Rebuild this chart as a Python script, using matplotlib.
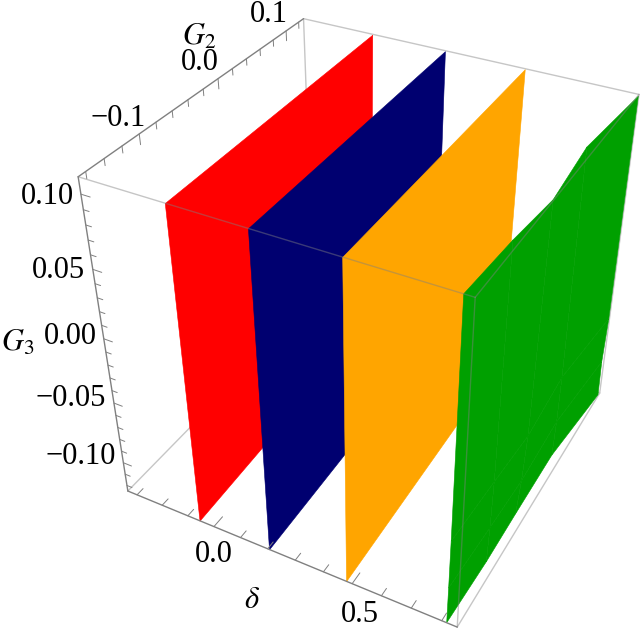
import numpy as np, matplotlib
matplotlib.use('Agg')
import matplotlib.pyplot as plt
from matplotlib.collections import PolyCollection

plt.rcParams['font.family'] = ['Liberation Serif', 'DejaVu Serif']
plt.rcParams['mathtext.fontset'] = 'stix'

# Plot box ranges
delta_range = (-0.337, 0.85)
g2_range = (-0.168, 0.128)
g3_range = (-0.125, 0.111)

# Surface sheets: delta(G2, G3) on small grids
g2_edges = [-0.168, 0.127]
g3_edges = [0.111, -0.125]
delta_red = [[-0.049, -0.070], [-0.055, -0.080]]
delta_blue = [[0.211, 0.197], [0.205, 0.193]]
delta_orange = [[0.488, 0.476], [0.479, 0.466]]

g2_green = [-0.168, -0.101, -0.044, 0.033, 0.125]
g3_green = [0.111, -0.057, -0.095, -0.125]
delta_green = [[0.820, 0.831, 0.848, 0.826, 0.852],
               [0.818, 0.828, 0.838, 0.826, 0.851],
               [0.817, 0.825, 0.830, 0.824, 0.846],
               [0.816, 0.821, 0.820, 0.820, 0.848]]

# Ticks
delta_major = [0.0, 0.5]
delta_ticks = [-0.3, -0.2, -0.1, 0.0, 0.1, 0.2, 0.3, 0.4, 0.5, 0.6, 0.7, 0.8]
g2_major = [-0.1, 0.0, 0.1]
g2_ticks = [-0.16, -0.14, -0.12, -0.10, -0.08, -0.06, -0.04, -0.02, 0.0,
            0.02, 0.04, 0.06, 0.08, 0.10, 0.12]
g3_major = [0.10, 0.05, 0.0, -0.05, -0.10]
g3_ticks = [0.10, 0.09, 0.08, 0.07, 0.06, 0.05, 0.04, 0.03, 0.02, 0.01, 0.0,
            -0.01, -0.02, -0.03, -0.04, -0.05, -0.06, -0.07, -0.08, -0.09,
            -0.10, -0.11, -0.12]

# Perspective camera fitted from the box corners as seen in the picture
dn, dx = delta_range
gn, gx = g2_range
hn, hx = g3_range
world = [(dn, gn, hx), (dx, gn, hx), (dn, gx, hx), (dx, gx, hx),
         (dn, gn, hn), (dx, gn, hn), (dn, gx, hn), (dx, gx, hn)]
screen = [(79, 176), (475, 298.5), (303, 18), (639, 95),
          (127.5, 490), (457, 628), (314, 303), (600, 391)]
rows = []
for (a, b, c), (x, y) in zip(world, screen):
    rows.append([a, b, c, 1, 0, 0, 0, 0, -x*a, -x*b, -x*c, -x])
    rows.append([0, 0, 0, 0, a, b, c, 1, -y*a, -y*b, -y*c, -y])
CAM = np.linalg.svd(np.array(rows))[2][-1].reshape(3, 4)


def proj(d, g, h):
    v = CAM @ np.array([d, g, h, 1.0])
    return v[0] / v[2], v[1] / v[2]


fig = plt.figure(figsize=(6.4, 6.34), dpi=100)
ax = fig.add_axes([0, 0, 1, 1])
ax.set_xlim(0, 640)
ax.set_ylim(634, 0)
ax.axis('off')

LIGHT = '#c6c6c6'
DARK = '#808080'


def edge(p, q, color=LIGHT, lw=1.0, alpha=1.0, z=1):
    a, b = proj(*p), proj(*q)
    ax.plot([a[0], b[0]], [a[1], b[1]], color=color, lw=lw, alpha=alpha,
            zorder=z, solid_capstyle='round')


# Back edges
edge((dn, gx, hx), (dx, gx, hx))
edge((dn, gx, hx), (dn, gx, hn))
edge((dn, gn, hn), (dn, gx, hn))
edge((dn, gx, hn), (dx, gx, hn))
edge((dx, gx, hx), (dx, gx, hn), z=1)
edge((dx, gn, hn), (dx, gx, hn), z=1)


def sheet(g2s, g3s, deltas, color, z):
    polys = []
    for i in range(len(g3s) - 1):
        for j in range(len(g2s) - 1):
            polys.append([proj(deltas[i][j], g2s[j], g3s[i]),
                          proj(deltas[i][j+1], g2s[j+1], g3s[i]),
                          proj(deltas[i+1][j+1], g2s[j+1], g3s[i+1]),
                          proj(deltas[i+1][j], g2s[j], g3s[i+1])])
    ax.add_collection(PolyCollection(polys, facecolors=color, edgecolors=color,
                                     linewidths=0.4, zorder=z))


sheet(g2_edges, g3_edges, delta_red, '#ff0000', 2)
sheet(g2_edges, g3_edges, delta_blue, '#000070', 3)
sheet(g2_edges, g3_edges, delta_orange, '#ffa500', 4)
sheet(g2_green, g3_green, delta_green, '#00a000', 5)

# Front edges, see-through over the sheets
for p, q in [((dn, gn, hx), (dx, gn, hx)),
             ((dx, gn, hx), (dx, gx, hx)),
             ((dx, gn, hx), (dx, gn, hn))]:
    edge(p, q, color=DARK, lw=1.0, alpha=0.45, z=6)

# Axes with ticks
edge((dn, gn, hx), (dn, gn, hn), color=DARK, z=7)
edge((dn, gn, hx), (dn, gx, hx), color=DARK, z=7)
edge((dn, gn, hn), (dx, gn, hn), color=DARK, z=7)

for h in g3_ticks:
    L = 0.032 if h in g3_major else 0.02
    edge((dn, gn, h), (dn + L, gn, h), color=DARK, lw=0.7, z=7)
for g in g2_ticks:
    L = 0.007 if any(abs(g - m) < 1e-9 for m in g2_major) else 0.0045
    edge((dn, g, hx), (dn, g, hx - L), color=DARK, lw=0.7, z=7)
for d in delta_ticks:
    L = 0.012 if d in delta_major else 0.008
    edge((d, gn, hn), (d, gn + L, hn), color=DARK, lw=0.7, z=7)

# Text
FS = 22
g3_labels = ['0.10', '0.05', '0.00', '\u22120.05', '\u22120.10']
g3_pos = [(74, 196), (85, 270), (97, 337), (106, 398), (116, 456)]
for s, (x, y) in zip(g3_labels, g3_pos):
    ax.text(x, y, s, ha='right', va='center', fontsize=FS, zorder=8)
g2_labels = ['\u22120.1', '0.0', '0.1']
g2_pos = [(146, 119), (219, 63), (288, 15)]
for s, (x, y) in zip(g2_labels, g2_pos):
    ax.text(x, y, s, ha='right', va='center', fontsize=FS, zorder=8)
delta_labels = ['0.0', '0.5']
delta_pos = [(214, 555), (360, 615)]
for s, (x, y) in zip(delta_labels, delta_pos):
    ax.text(x, y, s, ha='center', va='center', fontsize=FS, zorder=8)
ax.text(199, 37, r'$G_2$', ha='center', va='center', fontsize=FS, zorder=8)
ax.text(18, 343, r'$G_3$', ha='center', va='center', fontsize=FS, zorder=8)
ax.text(252, 600, r'$\delta$', ha='center', va='center', fontsize=FS, zorder=8)

fig.savefig('out.png', dpi=100)
